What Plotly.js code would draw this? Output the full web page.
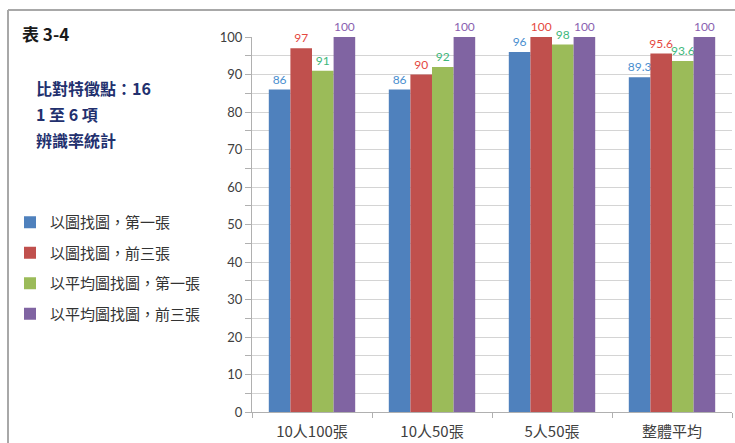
<!DOCTYPE html>
<html>
<head>
<meta charset="utf-8">
<script src="https://cdn.plot.ly/plotly-3.0.1.min.js"></script>
<style>
html,body{margin:0;padding:0;background:#fff;}
#chart{width:735px;height:443px;}
</style>
</head>
<body>
<div id="chart"></div>
<script>
const categories = ["10人100張", "10人50張", "5人50張", "整體平均"];
const seriesNames = ["以圖找圖，第一張", "以圖找圖，前三張", "以平均圖找圖，第一張", "以平均圖找圖，前三張"];
const s1 = [86, 86, 96, 89.3];
const s2 = [97, 90, 100, 95.6];
const s3 = [91, 92, 98, 93.6];
const s4 = [100, 100, 100, 100];
const yTicks = [0, 10, 20, 30, 40, 50, 60, 70, 80, 90, 100];

const barColors = ["#4f81bd", "#c0504d", "#9bbb59", "#8064a2"];
const labelColors = ["#4a8fcf", "#e5483f", "#3fb87c", "#8a5fb0"];
const values = [s1, s2, s3, s4];

const W = 735, H = 443;
const L = 252, R = 3, T = 37, B = 31;
const pw = W - L - R, ph = H - T - B;
const px = x => (x - L) / pw;
const py = y => (H - B - y) / ph;

const cjk = '"Noto Sans CJK TC", "Noto Sans CJK SC", sans-serif';
const num = 'Lato, "Open Sans", sans-serif';

const traces = values.map((v, i) => ({
  type: 'bar',
  name: seriesNames[i],
  x: categories,
  y: v,
  marker: {color: barColors[i], line: {width: 0}},
  text: v.map(String),
  textposition: 'outside',
  textfont: {family: num, size: 12, color: labelColors[i]},
  constraintext: 'none',
  cliponaxis: false,
  legendgroup: 'g' + i,
  hoverinfo: 'x+y'
}));

const layout = {
  width: W, height: H,
  margin: {l: L, r: R, t: T, b: B, pad: 0},
  paper_bgcolor: '#ffffff',
  plot_bgcolor: '#ffffff',
  barmode: 'group',
  bargap: 0.28,
  bargroupgap: 0,
  showlegend: true,
  legend: {
    x: px(10), xanchor: 'left',
    y: py(206), yanchor: 'top',
    font: {family: cjk, size: 15, color: '#333333'},
    traceorder: 'grouped',
    tracegroupgap: 8,
    bgcolor: 'rgba(0,0,0,0)'
  },
  xaxis: {
    type: 'category',
    range: [-0.5, 3.5],
    showline: true, linecolor: '#b0b0b0', linewidth: 1,
    ticks: 'outside', tickson: 'boundaries', ticklen: 5, tickcolor: '#b0b0b0',
    tickfont: {family: cjk, size: 15, color: '#404040'},
    ticklabelstandoff: 6,
    showgrid: false,
    fixedrange: true
  },
  yaxis: {
    range: [0, 100],
    tickvals: yTicks,
    ticktext: yTicks.map(String),
    showline: true, linecolor: '#b0b0b0', linewidth: 1,
    ticks: 'outside', ticklen: 6, tickcolor: '#b0b0b0',
    tickfont: {family: num, size: 13, color: '#404040'},
    showgrid: true, gridcolor: '#d4d4d4', gridwidth: 1,
    minor: {dtick: 5, showgrid: true, gridcolor: '#d4d4d4', ticks: 'outside', ticklen: 6, tickcolor: '#b0b0b0'},
    zeroline: false,
    fixedrange: true
  },
  shapes: [
    {type: 'line', xref: 'paper', yref: 'paper', x0: px(8), x1: px(740), y0: py(10), y1: py(10), line: {color: '#a8a8a8', width: 2}},
    {type: 'line', xref: 'paper', yref: 'paper', x0: px(8), x1: px(8), y0: py(10), y1: py(450), line: {color: '#a8a8a8', width: 2}}
  ],
  annotations: [
    {text: '表 3-4', xref: 'paper', yref: 'paper', x: px(20), y: py(33), xanchor: 'left', yanchor: 'middle', showarrow: false,
     font: {family: cjk, size: 17, color: '#1a1a1a', weight: 'bold'}},
    {text: '比對特徵點：16', xref: 'paper', yref: 'paper', x: px(34), y: py(88), xanchor: 'left', yanchor: 'middle', showarrow: false,
     font: {family: cjk, size: 16, color: '#22306e', weight: 'bold'}},
    {text: '1 至 6 項', xref: 'paper', yref: 'paper', x: px(34), y: py(114), xanchor: 'left', yanchor: 'middle', showarrow: false,
     font: {family: cjk, size: 16, color: '#22306e', weight: 'bold'}},
    {text: '辨識率統計', xref: 'paper', yref: 'paper', x: px(34), y: py(140), xanchor: 'left', yanchor: 'middle', showarrow: false,
     font: {family: cjk, size: 16, color: '#22306e', weight: 'bold'}}
  ]
};

Plotly.newPlot('chart', traces, layout, {displayModeBar: false, staticPlot: true});
</script>
</body>
</html>
